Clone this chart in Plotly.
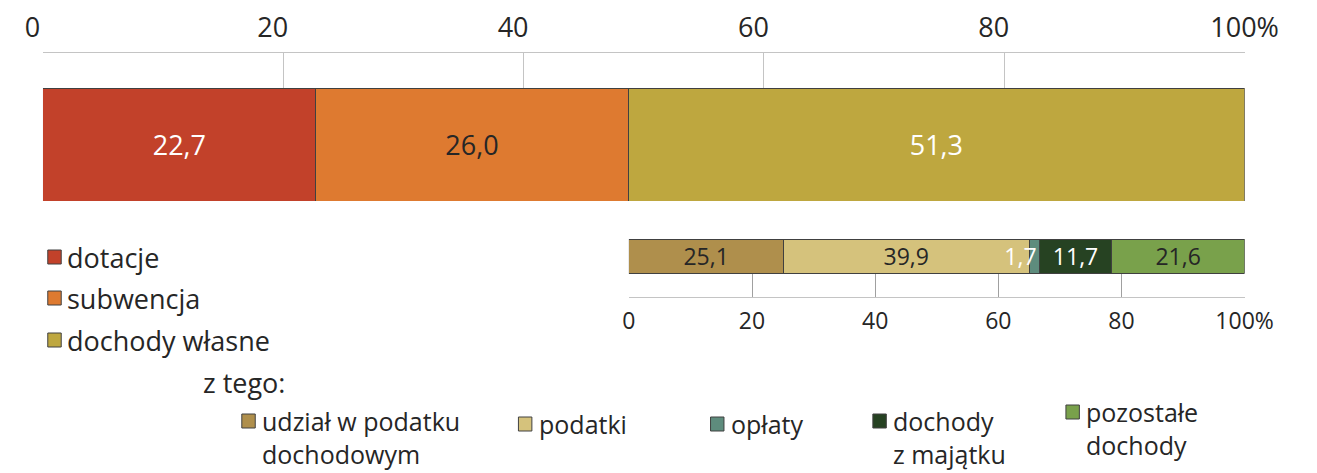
import plotly.graph_objects as go

W, H = 1317, 473

# ---------------- data ----------------
main_categories = ["dotacje", "subwencja", "dochody własne"]
main_values = [22.7, 26.0, 51.3]
main_colors = ["#C2412A", "#DE7A30", "#BEA73F"]
main_label_colors = ["#FFFFFF", "#262626", "#FFFFFF"]

own_categories = ["udział w podatku<br>dochodowym", "podatki", "opłaty",
                  "dochody<br>z majątku", "pozostałe<br>dochody"]
own_values = [25.1, 39.9, 1.7, 11.7, 21.6]
own_colors = ["#AF8F4C", "#D5C27C", "#5E8C7D", "#264222", "#79A14B"]
own_label_colors = ["#262626", "#262626", "#FFFFFF", "#FFFFFF", "#262626"]

tick_vals = [0, 20, 40, 60, 80, 100]
main_tick_labels = ["0", "20", "40", "60", "80", "100%"]
own_tick_labels = ["0", "20", "40", "60", "80", "100%"]

subheading = "z tego:"

FONT = "Open Sans"
TXT = "#262626"


def fmt(v):
    return f"{v:.1f}".replace(".", ",")


def px(x):
    return x / W


def py(y):
    return 1 - y / H


fig = go.Figure()

for name, v, c, lc in zip(main_categories, main_values, main_colors, main_label_colors):
    fig.add_trace(go.Bar(
        y=[0], x=[v], name=name, orientation="h", width=1,
        marker=dict(color=c, line=dict(color="#404040", width=1)),
        text=[fmt(v)], textposition="inside", insidetextanchor="middle",
        textangle=0, constraintext="none",
        textfont=dict(family=FONT, size=27, color=lc),
        xaxis="x", yaxis="y", showlegend=False, hoverinfo="skip"))

for name, v, c, lc in zip(own_categories, own_values, own_colors, own_label_colors):
    fig.add_trace(go.Bar(
        y=[0], x=[v], name=name, orientation="h", width=1,
        marker=dict(color=c, line=dict(color="#404040", width=1)),
        text=[fmt(v)], textposition="inside",
        insidetextanchor="end" if v < 5 else "middle",
        textangle=0, constraintext="none",
        textfont=dict(family=FONT, size=23, color=lc),
        xaxis="x2", yaxis="y2", showlegend=False, hoverinfo="skip"))

# ---------------- manual legend ----------------
shapes = []
annotations = []

top_sq_x = 31
top_txt_x = 49
top_rows = [257, 298, 340]
for c, name, yc in zip(main_colors, main_categories, top_rows):
    shapes.append(dict(type="rect", xref="paper", yref="paper",
                       x0=px(top_sq_x), x1=px(top_sq_x + 14),
                       y0=py(yc + 7), y1=py(yc - 7),
                       fillcolor=c, line=dict(color="#404040", width=1)))
    annotations.append(dict(xref="paper", yref="paper", x=px(top_txt_x), y=py(yc),
                            xanchor="left", yanchor="middle", text=name, showarrow=False,
                            font=dict(family=FONT, size=27, color=TXT)))

annotations.append(dict(xref="paper", yref="paper", x=px(191), y=py(382),
                        xanchor="left", yanchor="middle", text=subheading, showarrow=False,
                        font=dict(family=FONT, size=27, color=TXT)))

BOT_FS = 25
bot_sq_x = [233, 521, 721, 890, 1091]
bot_row_y = [421, 424, 424, 421, 412]
for c, name, sx, yc in zip(own_colors, own_categories, bot_sq_x, bot_row_y):
    shapes.append(dict(type="rect", xref="paper", yref="paper",
                       x0=px(sx), x1=px(sx + 14),
                       y0=py(yc + 7), y1=py(yc - 7),
                       fillcolor=c, line=dict(color="#404040", width=1)))
    n_lines = name.count("<br>") + 1
    y_mid = yc + (n_lines - 1) * 1.3 * BOT_FS / 2
    annotations.append(dict(xref="paper", yref="paper", x=px(sx + 19), y=py(y_mid),
                            xanchor="left", yanchor="middle", align="left",
                            text=name, showarrow=False,
                            font=dict(family=FONT, size=BOT_FS, color=TXT)))

main_pad = "\u00a0\u00a0\u00a0"
main_ticktext = [t if t.endswith("%") else t + main_pad for t in main_tick_labels]

fig.update_layout(
    width=W, height=H,
    margin=dict(l=0, r=0, t=0, b=0),
    paper_bgcolor="white", plot_bgcolor="white",
    barmode="stack", bargap=0,
    font=dict(family=FONT, color=TXT),
    showlegend=False,
    shapes=shapes, annotations=annotations,
    xaxis=dict(domain=[px(26), px(1277)], range=[0, 100], side="top", anchor="y",
               tickvals=tick_vals, ticktext=main_ticktext, ticks="",
               showgrid=True, gridcolor="#C4C4C4", gridwidth=1,
               showline=True, linecolor="#C4C4C4", linewidth=1,
               zeroline=False, ticklabelstandoff=4,
               tickfont=dict(family=FONT, size=27, color=TXT), fixedrange=True),
    yaxis=dict(domain=[py(201), py(53)], range=[-0.5, 0.8097], visible=False,
               fixedrange=True),
    xaxis2=dict(domain=[px(636), px(1277)], range=[0, 100], side="bottom", anchor="y2",
                tickvals=tick_vals, ticktext=own_tick_labels, ticks="",
                showgrid=True, gridcolor="#A0A0A0", gridwidth=1,
                showline=True, linecolor="#C4C4C4", linewidth=1,
                zeroline=False, ticklabelstandoff=3,
                tickfont=dict(family=FONT, size=23, color=TXT), fixedrange=True),
    yaxis2=dict(domain=[py(297), py(239)], range=[-1.206, 0.5], visible=False,
                fixedrange=True),
)

fig.write_html("out.html",
               config={"displayModeBar": False, "staticPlot": True},
               post_script="document.body.style.margin='0';document.body.style.overflow='hidden';")
